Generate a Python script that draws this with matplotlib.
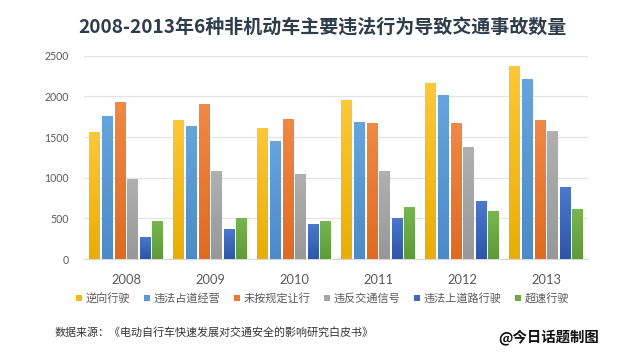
import numpy as np
import matplotlib
matplotlib.use("Agg")
import matplotlib.pyplot as plt
from matplotlib.colors import LinearSegmentedColormap
from matplotlib.lines import Line2D

plt.rcParams['font.family'] = ['Noto Sans CJK SC', 'DejaVu Sans']

years = ['2008', '2009', '2010', '2011', '2012', '2013']
series_names = ['逆向行驶', '违法占道经营', '未按规定让行', '违反交通信号', '违法上道路行驶', '超速行驶']
wrong_way = [1564, 1708, 1605, 1954, 2163, 2373]
occupy_road = [1753, 1630, 1457, 1679, 2020, 2217]
no_yield = [1933, 1909, 1716, 1671, 1671, 1705]
signal_violation = [985, 1080, 1051, 1088, 1375, 1574]
illegal_road = [271, 365, 427, 509, 710, 889]
speeding = [472, 509, 472, 644, 587, 615]
series_values = [wrong_way, occupy_road, no_yield, signal_violation, illegal_road, speeding]
yticks = [0, 500, 1000, 1500, 2000, 2500]

mid_colors = ['#F7BB12', '#5A9AD6', '#EC7A30', '#A5A5A5', '#3F68BE', '#6BAA43']
top_colors = ['#FFC733', '#66A4DD', '#F28842', '#B0B0B0', '#4B79CC', '#78B64F']
bot_colors = ['#EAAE00', '#4C8BC9', '#E26A1E', '#989898', '#2E55AA', '#5C9B36']

fig = plt.figure(figsize=(6.4, 3.58), dpi=100)
ax = fig.add_axes([84/640, 1-259/358, 504/640, (259-55.7)/358])

x = np.arange(len(years))
pitch = 0.15
width = 0.122
n = len(series_values)
grad = np.linspace(0, 1, 64).reshape(-1, 1)
for i, vals in enumerate(series_values):
    offs = (i - (n-1)/2) * pitch
    bars = ax.bar(x + offs, vals, width=width, color=mid_colors[i], zorder=2, linewidth=0)
    cmap = LinearSegmentedColormap.from_list('g%d' % i, [bot_colors[i], top_colors[i]])
    for b in bars:
        bx, by, bw, bh = b.get_x(), b.get_y(), b.get_width(), b.get_height()
        im = ax.imshow(grad, extent=[bx, bx+bw, by, by+bh], origin='lower',
                       cmap=cmap, aspect='auto', zorder=3, interpolation='bilinear')
        im.set_clip_path(b)

ax.set_xlim(-0.5, 5.5)
ax.set_ylim(0, 2500)
ax.set_yticks(yticks)
ax.set_yticklabels([str(v) for v in yticks])
ax.set_xticks(x)
ax.set_xticklabels(years)
ax.grid(axis='y', color='#E3E3E3', linewidth=0.9, zorder=0)
ax.set_axisbelow(True)
for s in ['top', 'right', 'left']:
    ax.spines[s].set_visible(False)
ax.spines['bottom'].set_color('#D9D9D9')
ax.spines['bottom'].set_linewidth(0.9)
ax.tick_params(axis='both', length=0)
ax.tick_params(axis='y', pad=11, labelsize=7.6, labelcolor='#595959')
ax.tick_params(axis='x', pad=10.5, labelsize=9.3, labelcolor='#595959')
for lab in ax.get_yticklabels() + ax.get_xticklabels():
    lab.set_family(['Lato', 'DejaVu Sans'])

fig.text(322/640, 1-28/358, '2008-2013年6种非机动车主要违法行为导致交通事故数量',
         ha='center', va='center', fontsize=13.7, fontweight='bold', color='#2F3C4C')

handles = [Line2D([0], [0], marker='s', linestyle='none', markersize=4.2,
                  markerfacecolor=c, markeredgewidth=0) for c in mid_colors]
fig.legend(handles, series_names, loc='center', bbox_to_anchor=(323/640, 1-298/358),
           ncol=6, frameon=False, fontsize=8.0, handlelength=0.5, handletextpad=0.35,
           columnspacing=1.25, labelcolor='#595959', borderpad=0, borderaxespad=0)

fig.text(55/640, 1-332/358, '数据来源：《电动自行车快速发展对交通安全的影响研究白皮书》',
         ha='left', va='center', fontsize=7.95, color='#333333')
fig.text(599/640, 1-337/358, '@今日话题制图', ha='right', va='center',
         fontsize=10.4, fontweight='bold', color='#111111')

fig.savefig('out.png', dpi=100)
